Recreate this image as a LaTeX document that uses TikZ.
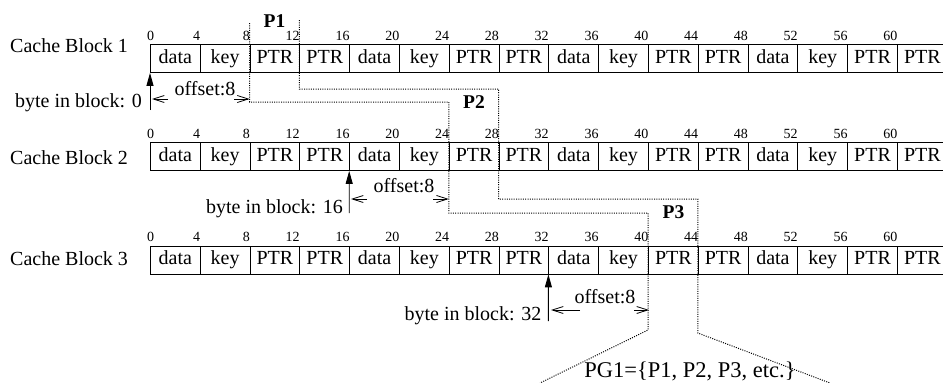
\documentclass[tikz,border=0pt]{standalone}
\usepackage{fontspec}
\setmainfont{Liberation Serif}
\usetikzlibrary{arrows.meta,calc}
\begin{document}
\begin{tikzpicture}[x=1pt,y=-1pt,
  cell/.style={draw, line width=0.9pt, minimum width=49.8pt, minimum height=28pt,
    inner sep=0pt, text height=15pt, text depth=5pt, anchor=north west,
    font=\fontsize{20}{24}\selectfont},
  tick/.style={inner sep=0pt, anchor=base east, font=\fontsize{14}{16}\selectfont},
  lbl/.style={inner sep=0pt, font=\fontsize{20}{24}\selectfont},
  plbl/.style={inner sep=0pt, anchor=base, font=\fontsize{19.5}{22}\selectfont\bfseries},
  ptrline/.style={line width=1pt, dash pattern=on 1pt off 1.3pt},
  bytearrow/.style={line width=0.9pt, -{Triangle[length=13pt,width=7pt]}},
  offarrow/.style={line width=0.8pt, -{Straight Barb[length=11pt,width=7pt]}},
]
\clip (0,0) rectangle (943,383);

% the three cache blocks, 16 fields of 4 bytes each
\foreach \r/\t in {1/44,2/142,3/245.5} {
  \foreach \lab [count=\i from 0] in {data,key,PTR,PTR,data,key,PTR,PTR,data,key,PTR,PTR,data,key,PTR,PTR} {
    \node[cell] (c\r-\i) at ({150+49.8*\i},\t) {\lab};
  }
  \node[tick, anchor=base] (t\r-0) at (150.5,\t-4) {0};
  \foreach \i in {1,...,15} {
    \pgfmathtruncatemacro\v{4*\i}
    \node[tick] (t\r-\i) at ({150+49.8*\i+0.5},\t-4) {\v};
  }
}

% block names
\node[lbl, anchor=base west] (name1) at (10,52.7) {Cache Block 1};
\node[lbl, anchor=base west] (name2) at (10,164) {Cache Block 2};
\node[lbl, anchor=base west] (name3) at (10,265.7) {Cache Block 3};

% start of each block access
\coordinate (f1) at (150,110);
\coordinate (f2) at (349.2,213);
\coordinate (f3) at (548.4,321);
\draw[bytearrow] (f1) -- (c1-0.south west);
\draw[bytearrow] (f2) -- (c2-4.south west);
\draw[bytearrow] (f3) -- (c3-8.south west);
\node[lbl, anchor=base east] (by1) at (142,107) {byte in block: 0};
\node[lbl, anchor=base east] (by2) at (343,213) {byte in block: 16};
\node[lbl, anchor=base east] (by3) at (541.5,320) {byte in block: 32};

% offsets to the pointer field
\coordinate (o1a) at (168,99);   \coordinate (o1b) at (152,99);
\coordinate (o1c) at (234,99);   \coordinate (o1d) at (249.6,99);
\coordinate (o2a) at (367,199);  \coordinate (o2b) at (351,199);
\coordinate (o2c) at (433,199);  \coordinate (o2d) at (448.8,199);
\coordinate (o3a) at (580,310);  \coordinate (o3b) at (551,310);
\coordinate (o3c) at (634,310);  \coordinate (o3d) at (649,310);
\draw[offarrow] (o1a) -- (o1b);  \draw[offarrow] (o1c) -- (o1d);
\draw[offarrow] (o2a) -- (o2b);  \draw[offarrow] (o2c) -- (o2d);
\draw[offarrow] (o3a) -- (o3b);  \draw[offarrow] (o3c) -- (o3d);
\node[lbl, anchor=base] (off1) at (205,95) {offset:8};
\node[lbl, anchor=base] (off2) at (404,192) {offset:8};
\node[lbl, anchor=base] (off3) at (605,303) {offset:8};

% dotted outline gathering the pointer fields into one group
\coordinate (la) at (249.6,23);
\coordinate (lz) at (540,383);
\coordinate (ra) at (299.4,20);
\coordinate (rz) at (830,383);
\draw[ptrline] (la) -- (249.6,102) -- (448.8,102) -- (448.8,213)
  -- (648,213) -- (648,330) -- (lz);
\draw[ptrline] (ra) -- (299.4,89) -- (498.6,89) -- (498.6,199)
  -- (697.8,199) -- (697.8,333) -- (rz);

\node[plbl] (p1) at (274.5,27) {P1};
\node[plbl] (p2) at (474,108) {P2};
\node[plbl] (p3) at (673.5,218) {P3};

\node[lbl, font=\fontsize{22.5}{26}\selectfont, anchor=base] (pg) at (690,377)
  {PG1=\{P1, P2, P3, etc.\}};
\end{tikzpicture}
\end{document}
